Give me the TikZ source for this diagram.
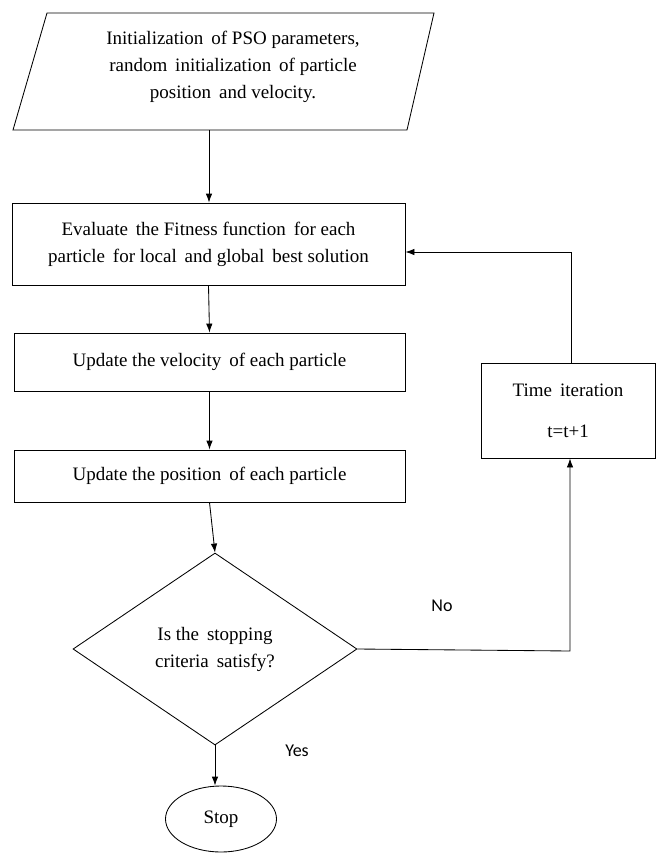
\documentclass[tikz,border=0pt]{standalone}
\usepackage{fontspec}
\setmainfont{Liberation Serif}
\newfontfamily\labelfont{Carlito}
\usetikzlibrary{shapes.geometric,arrows.meta}

\tikzset{
  line/.style={draw=black, line width=0.85pt},
  arrowline/.style={line, -{Latex[length=9pt,width=6.5pt]}},
  txt/.style={align=center, font=\fontsize{19}{27}\selectfont},
  procbox/.style={line, rectangle, txt, inner sep=0pt},
  decision/.style={line, diamond, txt, inner sep=0pt},
  terminal/.style={line, ellipse, txt, inner sep=0pt},
  answer/.style={font=\labelfont\fontsize{18}{22}\selectfont}
}

\begin{document}
\begin{tikzpicture}[x=1pt,y=-1pt]
\useasboundingbox (0,0) rectangle (659,855);

% input block (parallelogram)
\draw[line] (47,13) -- (434,13) -- (407,130) -- (13,130) -- cycle;
\node[txt] (init) at (233,67) {Initialization\, of PSO parameters,\\random\, initialization\, of particle\\position\, and velocity.};
\coordinate (initb) at (209,130);

% process blocks
\node[procbox, minimum width=393pt, minimum height=82pt] (eval) at (208.5,244)
  {Evaluate\, the Fitness function\, for each\\particle\, for local\, and global\, best solution};
\node[procbox, minimum width=391pt, minimum height=58pt] (vel) at (209.5,362)
  {Update the velocity\, of each particle};
\node[procbox, minimum width=391pt, minimum height=52pt] (pos) at (209.5,476)
  {Update the position\, of each particle};
\node[procbox, minimum width=174pt, minimum height=95pt] (time) at (568,410.5)
  {Time\, iteration\\[14pt]t=t+1};

% decision and terminal
\node[decision, minimum width=284pt, minimum height=192pt] (dec) at (215,649)
  {Is the\, stopping\\criteria\, satisfy?};
\node[terminal, minimum width=111pt, minimum height=66pt] (stop) at (221,819) {Stop};

% answer labels
\node[answer] (no) at (442,606) {No};
\node[answer] (yes) at (297,751) {Yes};

% helper points of the loop
\coordinate (noturn) at (570,651);
\coordinate (fb) at (571,252);

% connectors
\draw[arrowline] (initb) -- (initb |- eval.north);
\draw[arrowline] (eval.south) -- (vel.north);
\draw[arrowline] (vel.south) -- (pos.north);
\draw[arrowline] (pos.south) -- (dec.north);
\draw[arrowline] (dec.south) -- (dec.south |- stop.north);
\draw[arrowline] (dec.east) -- (noturn) -- (noturn |- time.south);
\draw[arrowline] (fb |- time.north) -- (fb) -- (eval.east |- fb);
\end{tikzpicture}
\end{document}
